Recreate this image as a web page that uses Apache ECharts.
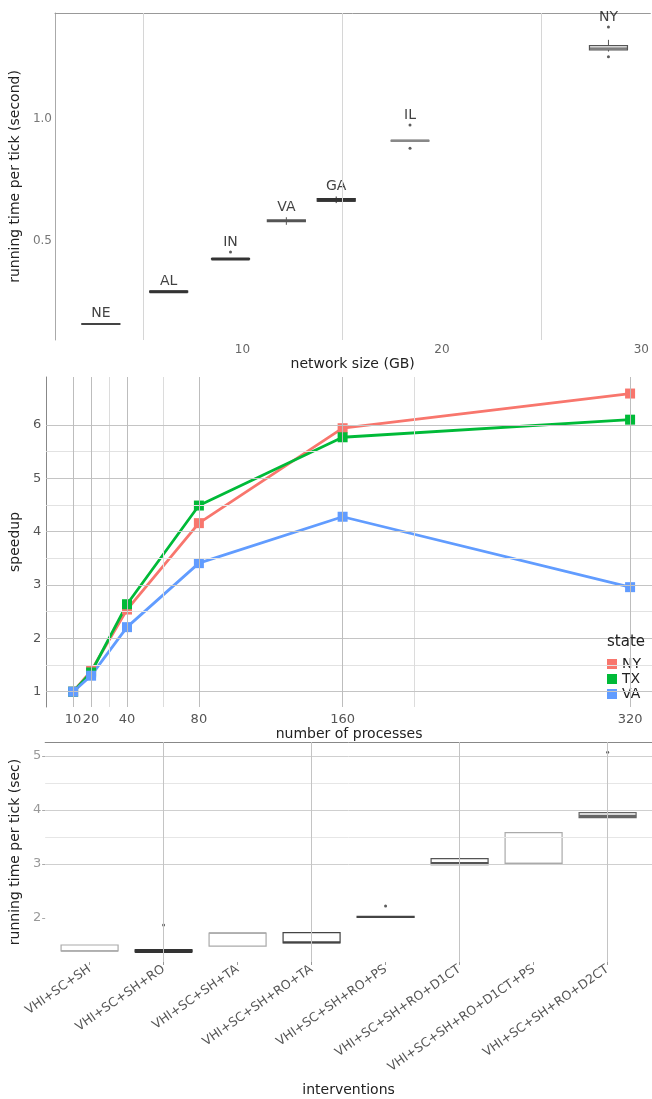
<!DOCTYPE html>
<html><head><meta charset="utf-8">
<script src="https://cdn.jsdelivr.net/npm/echarts@6/dist/echarts.min.js"></script>
<style>html,body{margin:0;padding:0;background:#fff}#c{width:652px;height:1099px}</style>
</head><body><div id="c"></div>
<script>
// ---------- Panel 1: running time vs network size ----------
const p1States = ['NE', 'AL', 'IN', 'VA', 'GA', 'IL', 'NY'];
const p1Size   = [2.9, 6.3, 9.4, 12.2, 14.7, 18.4, 28.35];
const p1Min    = [0.157, 0.289, 0.424, 0.566, 0.655, 0.908, 1.276];
const p1Q1     = [0.158, 0.290, 0.425, 0.579, 0.663, 0.909, 1.283];
const p1Med    = [0.160, 0.292, 0.426, 0.583, 0.668, 0.910, 1.290];
const p1Q3     = [0.161, 0.294, 0.428, 0.586, 0.673, 0.912, 1.300];
const p1Max    = [0.163, 0.295, 0.429, 0.597, 0.682, 0.913, 1.324];
const p1OutX   = [9.4, 18.4, 18.4, 28.35, 28.35];
const p1OutY   = [0.455, 0.975, 0.880, 1.377, 1.255];
const p1XTicks = [10, 20, 30];
const p1YTicks = [0.5, 1.0];
const p1XGrid  = [5, 15, 25];

// ---------- Panel 2: speedup ----------
const procs    = [10, 20, 40, 80, 160, 320];
const speedNY  = [1, 1.39, 2.54, 4.16, 5.94, 6.59];
const speedTX  = [1, 1.36, 2.64, 4.49, 5.77, 6.10];
const speedVA  = [1, 1.30, 2.21, 3.41, 4.28, 2.96];
const p2YTicks = [1, 2, 3, 4, 5, 6];
const p2YMinor = [1.5, 2.5, 3.5, 4.5, 5.5];
const p2XMinor = [30, 60, 200];

// ---------- Panel 3: interventions ----------
const interventions = ['VHI+SC+SH', 'VHI+SC+SH+RO', 'VHI+SC+SH+TA', 'VHI+SC+SH+RO+TA',
  'VHI+SC+SH+RO+PS', 'VHI+SC+SH+RO+D1CT', 'VHI+SC+SH+RO+D1CT+PS', 'VHI+SC+SH+RO+D2CT'];
const p3Min  = [1.39, 1.36, 1.48, 1.53, 2.01, 2.99, 3.01, 3.86];
const p3Q1   = [1.39, 1.37, 1.48, 1.54, 2.01, 2.99, 3.01, 3.86];
const p3Med  = [1.39, 1.39, 1.72, 1.55, 2.02, 3.01, 3.01, 3.89];
const p3Q3   = [1.50, 1.41, 1.72, 1.73, 2.03, 3.10, 3.58, 3.95];
const p3Max  = [1.50, 1.41, 1.72, 1.73, 2.03, 3.12, 3.58, 3.95];
const p3OutX = [1, 4, 7];
const p3OutY = [1.87, 2.22, 5.07];
const p3YTicks = [2, 3, 4, 5];
const p3YMajor = [3, 4, 5];
const p3YMinor = [3.5, 4.5];
const p3XGrid  = [1, 3, 5, 7];

// styles (kept separate from data)
const p1BoxColor = ['#444', '#333', '#333', '#555', '#333', '#888', '#555'];
const p1MedWidth = [1.5, 3, 3, 1.5, 3.5, 2.5, 1.2];
const p3BoxColor = ['#aaa', '#333', '#aaa', '#444', '#444', '#555', '#aaa', '#666'];
const p3MedWidth = [1.5, 4, 1.5, 2, 2, 3, 1.5, 2.5];

const font = 'DejaVu Sans';

function makeBox(widthPx, colors, medWidths) {
  return function (params, api) {
    const i = params.dataIndex;
    const x = api.value(0);
    const lo = api.coord([x, api.value(1)]);
    const q1 = api.coord([x, api.value(2)]);
    const md = api.coord([x, api.value(3)]);
    const q3 = api.coord([x, api.value(4)]);
    const hi = api.coord([x, api.value(5)]);
    const h = widthPx / 2, cx = md[0], c = colors[i];
    return { type: 'group', children: [
      { type: 'line', shape: { x1: cx, y1: hi[1], x2: cx, y2: q3[1] }, style: { stroke: c, lineWidth: 1 } },
      { type: 'line', shape: { x1: cx, y1: q1[1], x2: cx, y2: lo[1] }, style: { stroke: c, lineWidth: 1 } },
      { type: 'rect', shape: { x: cx - h, y: q3[1], width: widthPx, height: Math.max(q1[1] - q3[1], 0) },
        style: { fill: '#fff', stroke: c, lineWidth: 1.2 } },
      { type: 'line', shape: { x1: cx - h, y1: md[1], x2: cx + h, y2: md[1] }, style: { stroke: c, lineWidth: medWidths[i] } }
    ] };
  };
}

const p1BoxData = p1Size.map((x, i) => [x, p1Min[i], p1Q1[i], p1Med[i], p1Q3[i], p1Max[i]]);
const p1LabelData = p1Size.map((x, i) => {
  let top = p1Max[i];
  p1OutX.forEach((ox, j) => { if (ox === x) top = Math.max(top, p1OutY[j]); });
  return [x, top];
});
const p3BoxData = interventions.map((n, i) => [i, p3Min[i], p3Q1[i], p3Med[i], p3Q3[i], p3Max[i]]);

const labelStyle = (size, color) => ({ fontFamily: font, fontSize: size, color: color });
const nameStyle = { fontFamily: font, fontSize: 14, color: '#222' };
const none = { show: false };
const noLine = { show: false, onZero: false };

function gridLines(xi, yi, items) {
  return { type: 'line', xAxisIndex: xi, yAxisIndex: yi, data: [], silent: true, z: 0,
    markLine: { silent: true, symbol: ['none', 'none'], label: { show: false }, animation: false, data: items } };
}
const vline = (v, color) => ({ xAxis: v, lineStyle: { color: color, width: 1, type: 'solid' } });
const hline = (v, color) => ({ yAxis: v, lineStyle: { color: color, width: 1, type: 'solid' } });

const option = {
  animation: false,
  backgroundColor: '#fff',
  title: { text: 'state', right: 2, top: 630, textStyle: { fontFamily: font, fontSize: 15, fontWeight: 'normal', color: '#222' } },
  legend: { data: ['NY', 'TX', 'VA'], orient: 'vertical', right: 6, top: 652, icon: 'rect',
    itemWidth: 10, itemHeight: 10, itemGap: 1,
    textStyle: { fontFamily: font, fontSize: 14, lineHeight: 14, color: '#222', padding: [0, 0, 0, 0] } },
  grid: [
    { left: 55, top: 13, width: 597, height: 327 },
    { left: 43, top: 377, width: 609, height: 330 },
    { left: 42, top: 742, width: 615, height: 220 }
  ],
  xAxis: [
    { gridIndex: 0, type: 'value', min: 0.6, max: 30.45, axisLine: noLine, axisTick: none, splitLine: none,
      axisLabel: Object.assign({ customValues: p1XTicks, margin: 4 }, labelStyle(12, '#666')),
      name: 'network size (GB)', nameLocation: 'middle', nameGap: 15, nameTextStyle: nameStyle },
    { gridIndex: 0, type: 'value', position: 'top', min: 0.6, max: 30.45, axisLine: { show: true, onZero: false, lineStyle: { color: '#999' } },
      axisTick: none, axisLabel: none, splitLine: none },
    { gridIndex: 1, type: 'value', min: -5, max: 332.2, axisLine: noLine, axisTick: none, splitLine: none,
      axisLabel: Object.assign({ customValues: procs, margin: 6 }, labelStyle(13, '#555')),
      name: 'number of processes', nameLocation: 'middle', nameGap: 13, nameTextStyle: nameStyle },
    { gridIndex: 2, type: 'value', min: -0.6, max: 7.6, axisLine: noLine, splitLine: none,
      axisTick: { show: true, customValues: [0, 1, 2, 3, 4, 5, 6, 7], length: 3, lineStyle: { color: '#999' } },
      axisLabel: Object.assign({ customValues: [0, 1, 2, 3, 4, 5, 6, 7], rotate: 35, margin: 6,
        formatter: v => interventions[Math.round(v)] }, labelStyle(12.5, '#555')),
      name: 'interventions', nameLocation: 'middle', nameGap: 121, nameTextStyle: nameStyle },
    { gridIndex: 2, type: 'value', position: 'top', min: -0.6, max: 7.6, axisLine: { show: true, onZero: false, lineStyle: { color: '#888' } },
      axisTick: none, axisLabel: none, splitLine: none }
  ],
  yAxis: [
    { gridIndex: 0, type: 'value', min: 0.094, max: 1.434, axisLine: { show: true, onZero: false, lineStyle: { color: '#aaa' } },
      axisTick: none, splitLine: none,
      axisLabel: Object.assign({ customValues: p1YTicks, margin: 3, formatter: v => v.toFixed(1) }, labelStyle(12, '#777')),
      name: 'running time per tick (second)', nameLocation: 'middle', nameGap: 24, nameTextStyle: nameStyle },
    { gridIndex: 1, type: 'value', min: 0.713, max: 6.90, axisLine: { show: true, onZero: false, lineStyle: { color: '#888' } },
      axisTick: none, splitLine: none,
      axisLabel: Object.assign({ customValues: p2YTicks, margin: 5 }, labelStyle(13, '#555')),
      name: 'speedup', nameLocation: 'middle', nameGap: 13, nameTextStyle: nameStyle },
    { gridIndex: 2, type: 'value', min: 1.185, max: 5.26, axisLine: noLine, splitLine: none,
      axisTick: { show: true, customValues: p3YTicks, length: 3, lineStyle: { color: '#aaa' } },
      axisLabel: Object.assign({ customValues: p3YTicks, margin: 4 }, labelStyle(13, '#999')),
      name: 'running time per tick (sec)', nameLocation: 'middle', nameGap: 14, nameTextStyle: nameStyle }
  ],
  series: [
    // panel 1
    gridLines(0, 0, p1XGrid.map(v => vline(v, '#d6d6d6'))),
    { type: 'custom', xAxisIndex: 0, yAxisIndex: 0, data: p1BoxData, renderItem: makeBox(38, p1BoxColor, p1MedWidth), z: 2 },
    { type: 'scatter', xAxisIndex: 0, yAxisIndex: 0, data: p1OutX.map((x, i) => [x, p1OutY[i]]), symbolSize: 3,
      itemStyle: { color: '#333' }, z: 3 },
    { type: 'scatter', xAxisIndex: 0, yAxisIndex: 0, data: p1LabelData, symbolSize: 0, z: 4,
      label: { show: true, position: 'top', distance: 3, formatter: p => p1States[p.dataIndex],
        fontFamily: font, fontSize: 14, color: '#111' } },
    // panel 2
    gridLines(2, 1, [].concat(
      p2YMinor.map(v => hline(v, '#e2e2e2')),
      p2XMinor.map(v => vline(v, '#dcdcdc')),
      p2YTicks.map(v => hline(v, '#c4c4c4')),
      procs.map(v => vline(v, '#bdbdbd'))
    )),
    { name: 'NY', type: 'line', xAxisIndex: 2, yAxisIndex: 1, data: procs.map((p, i) => [p, speedNY[i]]),
      symbol: 'rect', symbolSize: 10, color: '#F8766D', lineStyle: { width: 2.8 }, z: 3 },
    { name: 'TX', type: 'line', xAxisIndex: 2, yAxisIndex: 1, data: procs.map((p, i) => [p, speedTX[i]]),
      symbol: 'rect', symbolSize: 10, color: '#00BA38', lineStyle: { width: 2.8 }, z: 3 },
    { name: 'VA', type: 'line', xAxisIndex: 2, yAxisIndex: 1, data: procs.map((p, i) => [p, speedVA[i]]),
      symbol: 'rect', symbolSize: 10, color: '#619CFF', lineStyle: { width: 2.8 }, z: 3 },
    // panel 3
    gridLines(3, 2, [].concat(
      p3YMinor.map(v => hline(v, '#e6e6e6')),
      p3YMajor.map(v => hline(v, '#cfcfcf')),
      p3XGrid.map(v => vline(v, '#c4c4c4'))
    )),
    { type: 'custom', xAxisIndex: 3, yAxisIndex: 2, data: p3BoxData, renderItem: makeBox(57, p3BoxColor, p3MedWidth), z: 2 },
    { type: 'scatter', xAxisIndex: 3, yAxisIndex: 2, data: p3OutX.map((x, i) => [x, p3OutY[i]]), symbolSize: 3,
      itemStyle: { color: '#333' }, z: 3 }
  ]
};

const chart = echarts.init(document.getElementById('c'), null, { renderer: 'canvas' });
chart.setOption(option);
</script>
</body></html>
